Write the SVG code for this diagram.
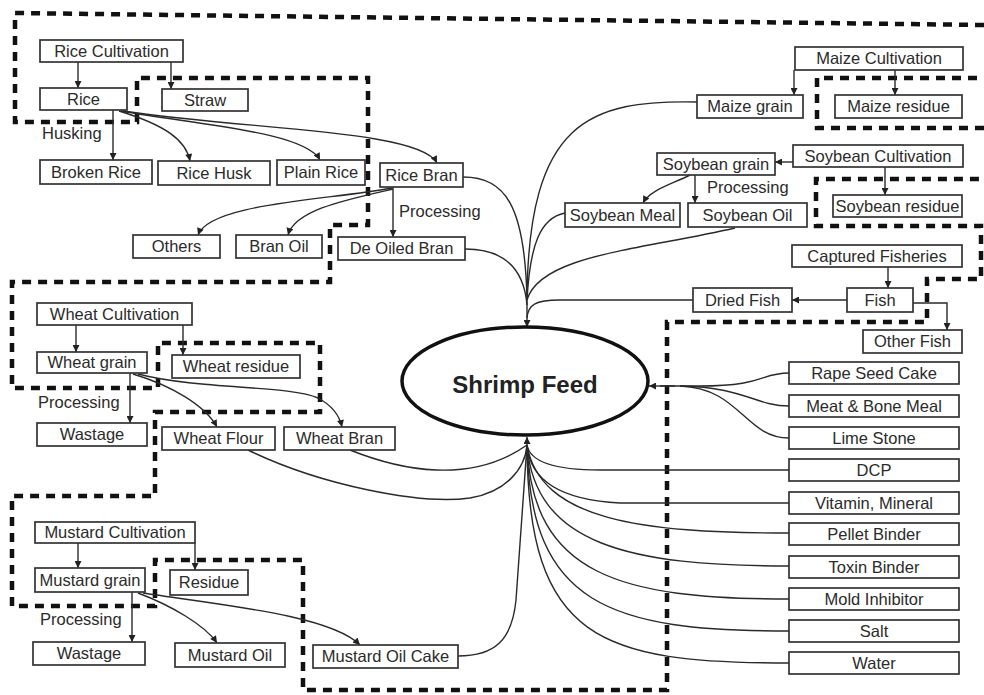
<svg xmlns="http://www.w3.org/2000/svg" width="984" height="695" viewBox="0 0 984 695">
<defs>
<marker id="ah" viewBox="0 0 10 10" refX="10" refY="5" markerWidth="8" markerHeight="7" markerUnits="userSpaceOnUse" orient="auto">
<path d="M0,0 L10,5 L0,10 z" fill="#222"/>
</marker>
<style>
.box rect{fill:#fff;stroke:#333;stroke-width:1.7}
.box text, .lbl{font-family:"Liberation Sans",Arial,sans-serif;font-size:16.5px;fill:#2b2b2b;text-anchor:middle}
.lbl{text-anchor:start}
.c{fill:none;stroke:#2a2a2a;stroke-width:1.4}
.a{marker-end:url(#ah)}
.dash{fill:none;stroke:#111;stroke-width:4.5;stroke-dasharray:9 7}
</style>
</defs>
<rect width="984" height="695" fill="#fff"/>

<g id="regions">
<path class="dash" d="M984,25 L15,13 L15,122 L137,122 L137,78 L368,78 L368,225 L330,225 L330,282 L12,282 L12,388 L158,388 L158,343 L320,343 L320,412 L155,412 L155,496 L12,496 L12,606 L155,606 L155,560 L303,560 L303,690 L667,690 L667,322 L927,322 L927,279 L981,279 L981,226 L816,226 L816,179 L984,179"/>
<path class="dash" d="M984,128 L817,128 L817,78 L984,78"/>
</g>

<g id="connectors">
<path class="c a" d="M78,62 V88"/>
<path class="c a" d="M171,62 V89"/>
<path class="c a" d="M113,110 V160"/>
<path class="c a" d="M119,111 C165,125 186,140 190,161"/>
<path class="c a" d="M121,111 C200,125 305,132 320,160"/>
<path class="c a" d="M123,111 C250,130 420,130 437,163"/>
<path class="c a" d="M392,188 C330,200 210,203 198,235"/>
<path class="c a" d="M393,189 C345,200 295,210 288,235"/>
<path class="c a" d="M393,187 V237"/>
<text class="lbl" x="42" y="139">Husking</text>
<text class="lbl" x="399" y="217">Processing</text>

<path class="c a" d="M76,325 V352"/>
<path class="c a" d="M183,325 V355"/>
<path class="c a" d="M130,373 V423"/>
<path class="c a" d="M133,374 C170,385 205,405 217,427"/>
<path class="c a" d="M138,374 C200,390 290,385 318,398 C335,407 340,418 342,427"/>
<text class="lbl" x="38" y="408">Processing</text>

<path class="c a" d="M78,543 V568"/>
<path class="c a" d="M195,543 V570"/>
<path class="c a" d="M132,592 V642"/>
<path class="c a" d="M138,593 C170,605 205,625 217,643"/>
<path class="c a" d="M143,593 C220,605 330,615 360,645"/>
<text class="lbl" x="40" y="625">Processing</text>

<path class="c a" d="M794,70 V95"/>
<path class="c a" d="M895,70 V95"/>
<path class="c a" d="M793,162 H775"/>
<path class="c a" d="M885,167 V195"/>
<path class="c a" d="M690,175 C670,185 650,190 643,203"/>
<path class="c a" d="M695,175 V203"/>
<text class="lbl" x="707" y="193">Processing</text>
<path class="c a" d="M888,267 V288"/>
<path class="c a" d="M847,300 H792"/>
<path class="c a" d="M913,303 H947 V330"/>

<!-- into Shrimp Feed from top -->
<path class="c" d="M463,177 C505,177 525,205 527,300"/>
<path class="c" d="M465,249 C505,249 524,270 527,305"/>
<path class="c" d="M697,102 C590,100 528,120 527,300"/>
<path class="c" d="M565,213 C540,218 530,245 527,300"/>
<path class="c" d="M735,228 C640,250 540,255 527,300"/>
<path class="c" d="M693,300 L560,300 C535,300 528,305 527,318"/>
<path class="c a" d="M527,300 V327"/>

<!-- into Shrimp Feed from right -->
<path class="c" d="M789,373 C760,373 765,386 700,386 L660,386"/>
<path class="c" d="M789,406 C755,406 745,387 680,386"/>
<path class="c" d="M789,438 C745,438 740,388 680,386"/>
<path class="c a" d="M675,386 H649"/>

<!-- into Shrimp Feed from bottom -->
<path class="c" d="M248,450 C320,485 420,505 470,498 C505,492 525,470 527,445"/>
<path class="c" d="M350,450 C400,470 470,485 527,445"/>
<path class="c" d="M458,656 C495,656 512,640 516,600 C520,540 525,480 527,445"/>
<path class="c" d="M789,470 L600,470 C555,470 530,462 527,445"/>
<path class="c" d="M789,503 L620,503 C560,500 530,480 527,445"/>
<path class="c" d="M789,533 C640,533 540,520 527,445"/>
<path class="c" d="M789,566 C630,566 535,545 527,445"/>
<path class="c" d="M789,599 C620,599 532,575 527,445"/>
<path class="c" d="M789,631 C610,631 530,605 527,445"/>
<path class="c" d="M789,663 C600,663 528,640 527,445"/>
<path class="c a" d="M527,460 V437"/>
</g>

<g id="shrimp-feed">
<ellipse cx="525" cy="381" rx="123" ry="54" fill="#fff" stroke="#111" stroke-width="3.5"/>
<text x="525" y="393" font-family="'Liberation Sans',Arial,sans-serif" font-size="24" font-weight="bold" fill="#222" text-anchor="middle">Shrimp Feed</text>
</g>

<g id="rice-cultivation" class="box"><rect x="40" y="40" width="143" height="22"/><text x="111.5" y="57">Rice Cultivation</text></g>
<g id="rice" class="box"><rect x="40" y="88" width="87" height="22"/><text x="83.5" y="105">Rice</text></g>
<g id="straw" class="box"><rect x="162" y="89" width="86" height="22"/><text x="205" y="106">Straw</text></g>
<g id="broken-rice" class="box"><rect x="40" y="160" width="112" height="24"/><text x="96" y="178">Broken Rice</text></g>
<g id="rice-husk" class="box"><rect x="158" y="161" width="112" height="24"/><text x="214" y="179">Rice Husk</text></g>
<g id="plain-rice" class="box"><rect x="277" y="160" width="88" height="25"/><text x="321" y="178">Plain Rice</text></g>
<g id="rice-bran" class="box"><rect x="380" y="163" width="83" height="24"/><text x="421.5" y="181">Rice Bran</text></g>
<g id="others" class="box"><rect x="133" y="235" width="87" height="23"/><text x="176.5" y="252">Others</text></g>
<g id="bran-oil" class="box"><rect x="236" y="235" width="86" height="23"/><text x="279" y="252">Bran Oil</text></g>
<g id="de-oiled-bran" class="box"><rect x="338" y="237" width="127" height="23"/><text x="401.5" y="254">De Oiled Bran</text></g>

<g id="wheat-cultivation" class="box"><rect x="37" y="303" width="155" height="22"/><text x="114.5" y="320">Wheat Cultivation</text></g>
<g id="wheat-grain" class="box"><rect x="37" y="352" width="110" height="21"/><text x="92" y="368">Wheat grain</text></g>
<g id="wheat-residue" class="box"><rect x="172" y="355" width="128" height="23"/><text x="236" y="372">Wheat residue</text></g>
<g id="wheat-wastage" class="box"><rect x="37" y="423" width="110" height="23"/><text x="92" y="440">Wastage</text></g>
<g id="wheat-flour" class="box"><rect x="162" y="427" width="113" height="23"/><text x="218.5" y="444">Wheat Flour</text></g>
<g id="wheat-bran" class="box"><rect x="284" y="427" width="111" height="23"/><text x="339.5" y="444">Wheat Bran</text></g>

<g id="mustard-cultivation" class="box"><rect x="35" y="522" width="160" height="21"/><text x="115" y="538">Mustard Cultivation</text></g>
<g id="mustard-grain" class="box"><rect x="35" y="568" width="110" height="24"/><text x="90" y="586">Mustard grain</text></g>
<g id="residue" class="box"><rect x="170" y="570" width="78" height="25"/><text x="209" y="588">Residue</text></g>
<g id="mustard-wastage" class="box"><rect x="33" y="642" width="112" height="23"/><text x="89" y="659">Wastage</text></g>
<g id="mustard-oil" class="box"><rect x="175" y="643" width="110" height="24"/><text x="230" y="661">Mustard Oil</text></g>
<g id="mustard-oil-cake" class="box"><rect x="313" y="645" width="145" height="23"/><text x="385.5" y="662">Mustard Oil Cake</text></g>

<g id="maize-cultivation" class="box"><rect x="795" y="47" width="168" height="23"/><text x="879" y="64">Maize Cultivation</text></g>
<g id="maize-grain" class="box"><rect x="697" y="95" width="106" height="23"/><text x="750" y="112">Maize grain</text></g>
<g id="maize-residue" class="box"><rect x="835" y="95" width="127" height="23"/><text x="898.5" y="112">Maize residue</text></g>
<g id="soybean-grain" class="box"><rect x="657" y="153" width="118" height="22"/><text x="716" y="170">Soybean grain</text></g>
<g id="soybean-cultivation" class="box"><rect x="793" y="145" width="170" height="22"/><text x="878" y="162">Soybean Cultivation</text></g>
<g id="soybean-meal" class="box"><rect x="565" y="203" width="115" height="24"/><text x="622.5" y="221">Soybean Meal</text></g>
<g id="soybean-oil" class="box"><rect x="688" y="203" width="119" height="24"/><text x="747.5" y="221">Soybean Oil</text></g>
<g id="soybean-residue" class="box"><rect x="833" y="195" width="129" height="22"/><text x="897.5" y="212">Soybean residue</text></g>
<g id="captured-fisheries" class="box"><rect x="792" y="245" width="170" height="22"/><text x="877" y="262">Captured Fisheries</text></g>
<g id="dried-fish" class="box"><rect x="693" y="288" width="99" height="24"/><text x="742.5" y="306">Dried Fish</text></g>
<g id="fish" class="box"><rect x="847" y="288" width="66" height="24"/><text x="880" y="306">Fish</text></g>
<g id="other-fish" class="box"><rect x="863" y="330" width="99" height="23"/><text x="912.5" y="347">Other Fish</text></g>

<g id="rape-seed-cake" class="box"><rect x="789" y="362" width="170" height="22"/><text x="874" y="379">Rape Seed Cake</text></g>
<g id="meat-bone-meal" class="box"><rect x="789" y="395" width="170" height="22"/><text x="874" y="412">Meat &amp; Bone Meal</text></g>
<g id="lime-stone" class="box"><rect x="789" y="427" width="170" height="22"/><text x="874" y="444">Lime Stone</text></g>
<g id="dcp" class="box"><rect x="789" y="459" width="170" height="22"/><text x="874" y="476">DCP</text></g>
<g id="vitamin-mineral" class="box"><rect x="789" y="492" width="170" height="22"/><text x="874" y="509">Vitamin, Mineral</text></g>
<g id="pellet-binder" class="box"><rect x="789" y="523" width="170" height="22"/><text x="874" y="540">Pellet Binder</text></g>
<g id="toxin-binder" class="box"><rect x="789" y="556" width="170" height="22"/><text x="874" y="573">Toxin Binder</text></g>
<g id="mold-inhibitor" class="box"><rect x="789" y="588" width="170" height="22"/><text x="874" y="605">Mold Inhibitor</text></g>
<g id="salt" class="box"><rect x="789" y="620" width="170" height="22"/><text x="874" y="637">Salt</text></g>
<g id="water" class="box"><rect x="789" y="652" width="170" height="22"/><text x="874" y="669">Water</text></g>
</svg>
